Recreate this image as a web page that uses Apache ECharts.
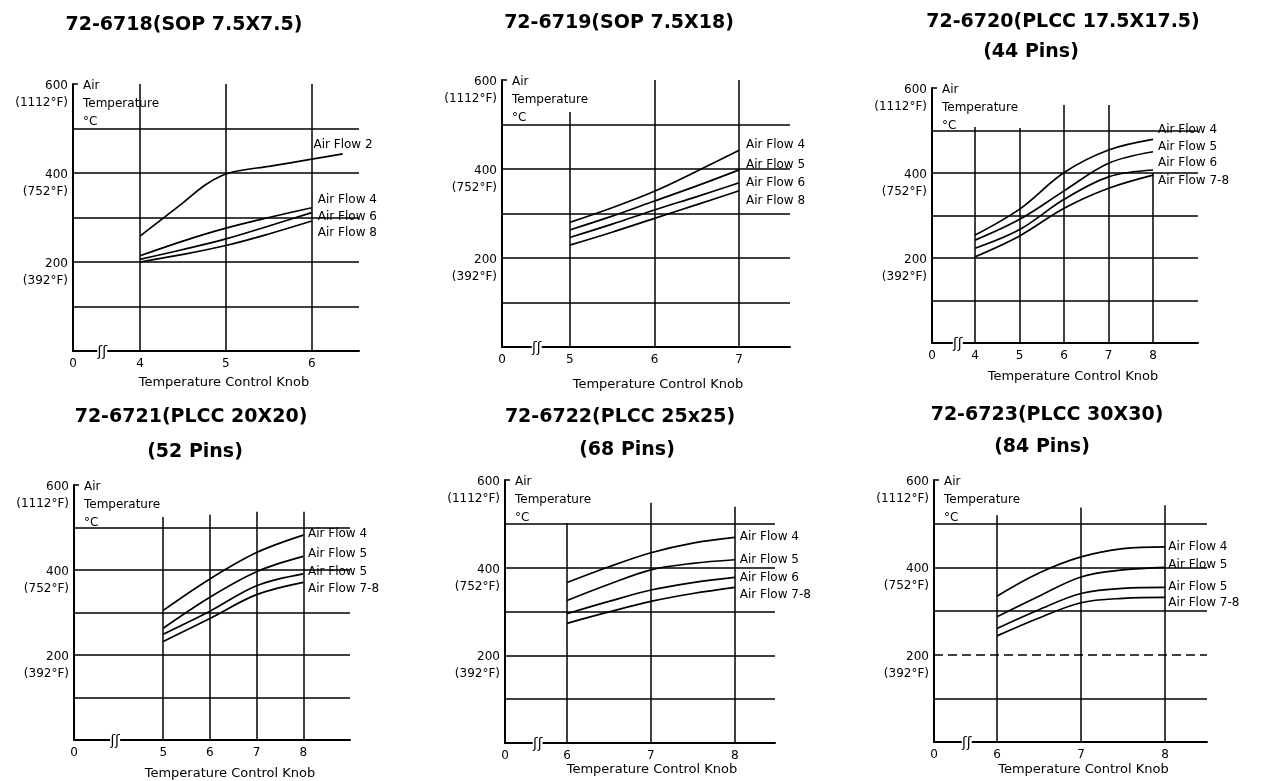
<!DOCTYPE html>
<html><head><meta charset="utf-8">
<script src="https://cdn.jsdelivr.net/npm/echarts@6/dist/echarts.min.js"></script>
<style>html,body{margin:0;padding:0;background:#fff}#c{width:1263px;height:781px}</style>
</head><body><div id="c"></div>
<script>
// ================= DATA =================
const TITLES = ['72-6718(SOP 7.5X7.5)', '72-6719(SOP 7.5X18)', '72-6720(PLCC 17.5X17.5)',
                '72-6721(PLCC 20X20)', '72-6722(PLCC 25x25)', '72-6723(PLCC 30X30)'];
const SUBTITLES = ['', '', '(44 Pins)', '(52 Pins)', '(68 Pins)', '(84 Pins)'];
const Y_TICKS = [600, 400, 200];
const Y_F = ['(1112°F)', '(752°F)', '(392°F)'];
const Y_GRID = [100, 200, 300, 400, 500];
const X_NAME = 'Temperature Control Knob';
const Y_NAME = 'Air\nTemperature\n°C';

// Panel 1: 72-6718
const P1_TICKS = [4, 5, 6];
const P1_KNOB = [4, 4.5, 5, 5.5, 6];
const P1_KNOB_AF2 = [4, 4.5, 4.75, 4.95, 5.15, 5.5, 6, 6.36];
const P1_AF2 = [258, 333, 372, 394, 405, 415, 431, 443];
const P1_AF4 = [214, 247, 276, 300, 322];
const P1_AF6 = [206, 228, 252, 281, 311];
const P1_AF8 = [200, 217, 237, 263, 292];
const P1_LABELS = ['Air Flow 2', 'Air Flow 4', 'Air Flow 6', 'Air Flow 8'];

// Panel 2: 72-6719
const P2_TICKS = [5, 6, 7];
const P2_KNOB = [5, 5.5, 6, 6.5, 7];
const P2_AF4 = [280, 313, 350, 395, 442];
const P2_AF5 = [263, 294, 328, 362, 398];
const P2_AF6 = [246, 276, 308, 338, 369];
const P2_AF8 = [229, 258, 289, 320, 351];
const P2_LABELS = ['Air Flow 4', 'Air Flow 5', 'Air Flow 6', 'Air Flow 8'];

// Panel 3: 72-6720
const P3_TICKS = [4, 5, 6, 7, 8];
const P3_KNOB = [4, 5, 6, 7, 8];
const P3_AF4 = [254, 315, 401, 454, 479];
const P3_AF5 = [242, 291, 358, 423, 450];
const P3_AF6 = [223, 267, 338, 391, 407];
const P3_AF78 = [203, 252, 317, 364, 395];
const P3_LABELS = ['Air Flow 4', 'Air Flow 5', 'Air Flow 6', 'Air Flow 7-8'];

// Panel 4: 72-6721
const P4_TICKS = [5, 6, 7, 8];
const P4_KNOB = [5, 6, 7, 8];
const P4_AF4 = [305, 379, 441, 482];
const P4_AF5 = [263, 336, 396, 432];
const P4_AF5B = [249, 303, 363, 391];
const P4_AF78 = [232, 286, 342, 371];
const P4_LABELS = ['Air Flow 4', 'Air Flow 5', 'Air Flow 5', 'Air Flow 7-8'];

// Panel 5: 72-6722
const P5_TICKS = [6, 7, 8];
const P5_KNOB = [6, 6.5, 7, 7.5, 8];
const P5_AF4 = [366, 402, 434, 456, 469];
const P5_AF5 = [325, 362, 395, 410, 418];
const P5_AF6 = [295, 323, 349, 366, 378];
const P5_AF78 = [273, 299, 323, 341, 355];
const P5_LABELS = ['Air Flow 4', 'Air Flow 5', 'Air Flow 6', 'Air Flow 7-8'];

// Panel 6: 72-6723
const P6_TICKS = [6, 7, 8];
const P6_KNOB = [6, 6.5, 7, 7.5, 8];
const P6_AF4 = [334, 387, 424, 443, 447];
const P6_AF5 = [287, 334, 378, 394, 400];
const P6_AF5B = [260, 303, 340, 352, 354];
const P6_AF78 = [243, 284, 319, 329, 331];
const P6_LABELS = ['Air Flow 4', 'Air Flow 5', 'Air Flow 5', 'Air Flow 7-8'];

// ================= STRUCTURE =================
const PANELS = [
  {ticks: P1_TICKS, labels: P1_LABELS, series: [[P1_KNOB_AF2, P1_AF2], [P1_KNOB, P1_AF4], [P1_KNOB, P1_AF6], [P1_KNOB, P1_AF8]]},
  {ticks: P2_TICKS, labels: P2_LABELS, series: [[P2_KNOB, P2_AF4], [P2_KNOB, P2_AF5], [P2_KNOB, P2_AF6], [P2_KNOB, P2_AF8]]},
  {ticks: P3_TICKS, labels: P3_LABELS, series: [[P3_KNOB, P3_AF4], [P3_KNOB, P3_AF5], [P3_KNOB, P3_AF6], [P3_KNOB, P3_AF78]]},
  {ticks: P4_TICKS, labels: P4_LABELS, series: [[P4_KNOB, P4_AF4], [P4_KNOB, P4_AF5], [P4_KNOB, P4_AF5B], [P4_KNOB, P4_AF78]]},
  {ticks: P5_TICKS, labels: P5_LABELS, series: [[P5_KNOB, P5_AF4], [P5_KNOB, P5_AF5], [P5_KNOB, P5_AF6], [P5_KNOB, P5_AF78]]},
  {ticks: P6_TICKS, labels: P6_LABELS, series: [[P6_KNOB, P6_AF4], [P6_KNOB, P6_AF5], [P6_KNOB, P6_AF5B], [P6_KNOB, P6_AF78]]}
];

// ================= LAYOUT (positions / styles) =================
const LAYOUT = [
  {grid: [73, 84, 286, 267], xMin: 3.22, xMax: 6.55, vTop: [600, 600, 600], brk: 3.56, nameGap: 25, nameShift: 8,
   lab: [[6.02, 463], [6.07, 339], [6.07, 301], [6.07, 265]], title: [184, 25], sub: null},
  {grid: [502, 80, 288, 267], xMin: 4.2, xMax: 7.6, vTop: [528, 600, 600], brk: 4.61, nameGap: 31, nameShift: 12,
   lab: [[7.08, 454], [7.08, 409], [7.08, 369], [7.08, 328]], title: [619, 23], sub: null},
  {grid: [932, 88, 266, 255], xMin: 3.03, xMax: 9.01, vTop: [508, 506, 560, 560, 400], brk: 3.61, nameGap: 27, nameShift: 8,
   lab: [[8.11, 501], [8.11, 461], [8.11, 424], [8.11, 381]], title: [1063, 22], sub: [1031, 52]},
  {grid: [74, 485, 276, 258], xMin: 3.09, xMax: 9.0, vTop: [525, 530, 537, 537], brk: 3.97, nameGap: 27, nameShift: 18,
   lab: [[8.10, 484], [8.10, 437], [8.10, 395], [8.10, 356]], title: [191, 417], sub: [195, 452]},
  {grid: [505, 480, 270, 263], xMin: 5.26, xMax: 8.48, vTop: [502, 548, 539], brk: 5.65, nameGap: 20, nameShift: 12,
   lab: [[8.06, 470], [8.06, 418], [8.06, 377], [8.06, 338]], title: [620, 417], sub: [627, 450]},
  {grid: [934, 480, 273, 262], xMin: 5.25, xMax: 8.5, vTop: [519, 537, 542], brk: 5.64, nameGap: 21, nameShift: 13,
   lab: [[8.04, 446], [8.04, 405], [8.04, 355], [8.04, 318]], title: [1047, 415], sub: [1042, 447], dashed: [200]}
];

const FONT = '"DejaVu Sans", "Liberation Sans", sans-serif';
const INK = '#000';

const grids = [], xAxes = [], yAxes = [], series = [];
PANELS.forEach((p, i) => {
  const L = LAYOUT[i];
  grids.push({left: L.grid[0], top: L.grid[1], width: L.grid[2], height: L.grid[3], containLabel: false});
  xAxes.push({
    type: 'value', gridIndex: i, min: L.xMin, max: L.xMax,
    name: X_NAME, nameLocation: 'middle', nameGap: L.nameGap,
    nameTextStyle: {color: INK, fontFamily: FONT, fontSize: 13, padding: [0, 0, 0, 2 * L.nameShift]},
    axisLine: {show: true, onZero: false, lineStyle: {color: INK, width: 2}},
    axisTick: {show: false},
    splitLine: {show: false},
    axisLabel: {
      show: true, color: INK, fontFamily: FONT, fontSize: 12, margin: 7,
      customValues: [L.xMin].concat(p.ticks), showMinLabel: true, showMaxLabel: true, hideOverlap: false,
      formatter: v => (Math.abs(v - L.xMin) < 1e-6 ? '0' : String(v))
    }
  });
  yAxes.push({
    type: 'value', gridIndex: i, min: 0, max: 600, interval: 100,
    axisLine: {show: true, onZero: false, lineStyle: {color: INK, width: 2}},
    axisTick: {show: true, inside: true, length: 5, customValues: [600], lineStyle: {color: INK, width: 1.5}},
    splitLine: {show: false},
    axisLabel: {
      show: true, color: INK, fontFamily: FONT, fontSize: 12, margin: 5, verticalAlign: 'top',
      formatter: v => {
        const k = Y_TICKS.indexOf(v);
        return k < 0 ? '' : '{a|' + Y_TICKS[k] + '}\n{b|' + Y_F[k] + '}';
      },
      rich: {
        a: {fontFamily: FONT, fontSize: 12, color: INK, lineHeight: 4, align: 'right'},
        b: {fontFamily: FONT, fontSize: 12, color: INK, lineHeight: 30, align: 'right'}
      }
    }
  });
  const hLines = Y_GRID.map(v => {
    const item = {yAxis: v};
    if (L.dashed && L.dashed.includes(v)) item.lineStyle = {type: [9, 5], color: INK, width: 1.5};
    return item;
  });
  const vLines = p.ticks.map((t, k) => [{coord: [t, 0]}, {coord: [t, L.vTop[k]]}]);
  p.series.forEach((s, j) => {
    const ser = {
      type: 'line', xAxisIndex: i, yAxisIndex: i, name: p.labels[j] + ' ' + i + '-' + j,
      data: s[0].map((x, k) => [x, s[1][k]]),
      smooth: 0.35, symbol: 'none', silent: true, animation: false,
      lineStyle: {color: INK, width: 1.7},
      markPoint: {
        symbol: 'circle', symbolSize: 0, silent: true, animation: false,
        itemStyle: {color: 'rgba(0,0,0,0)'},
        label: {show: true, position: 'right', distance: 0, formatter: '{b}', color: INK, fontFamily: FONT, fontSize: 12},
        data: [{coord: L.lab[j], name: p.labels[j]}]
      }
    };
    if (j === 0) {
      ser.markLine = {
        silent: true, symbol: ['none', 'none'], animation: false, label: {show: false},
        emphasis: {disabled: true},
        lineStyle: {color: INK, width: 1.5, type: 'solid'},
        data: hLines.concat(vLines)
      };
    }
    series.push(ser);
  });
});

const chart = echarts.init(document.getElementById('c'), null, {renderer: 'canvas'});
chart.setOption({
  backgroundColor: '#fff', animation: false,
  grid: grids, xAxis: xAxes, yAxis: yAxes, series: series
});

const graphics = [];
PANELS.forEach((p, i) => {
  const L = LAYOUT[i];
  graphics.push({type: 'text', x: L.title[0], y: L.title[1], silent: true, z: 100,
    style: {text: TITLES[i], fill: INK, font: 'bold 19px ' + FONT, align: 'center', verticalAlign: 'middle'}});
  if (L.sub) graphics.push({type: 'text', x: L.sub[0], y: L.sub[1], silent: true, z: 100,
    style: {text: SUBTITLES[i], fill: INK, font: 'bold 19px ' + FONT, align: 'center', verticalAlign: 'middle'}});
  graphics.push({type: 'text', x: L.grid[0] + 10, y: L.grid[1] - 7, silent: true, z: 100,
    style: {text: Y_NAME, fill: INK, font: '12px ' + FONT, lineHeight: 18, align: 'left', verticalAlign: 'top'}});
  const pt = chart.convertToPixel({gridIndex: i}, [L.brk, 0]);
  graphics.push({type: 'rect', x: pt[0] - 5, y: pt[1] - 3, silent: true, z: 100, shape: {width: 10, height: 6}, style: {fill: '#fff'}});
  graphics.push({type: 'text', x: pt[0], y: pt[1] + 1, silent: true, z: 101,
    style: {text: 'ʃʃ', fill: INK, font: '14px ' + FONT, align: 'center', verticalAlign: 'middle'}});
});
chart.setOption({graphic: graphics});
</script>
</body></html>
